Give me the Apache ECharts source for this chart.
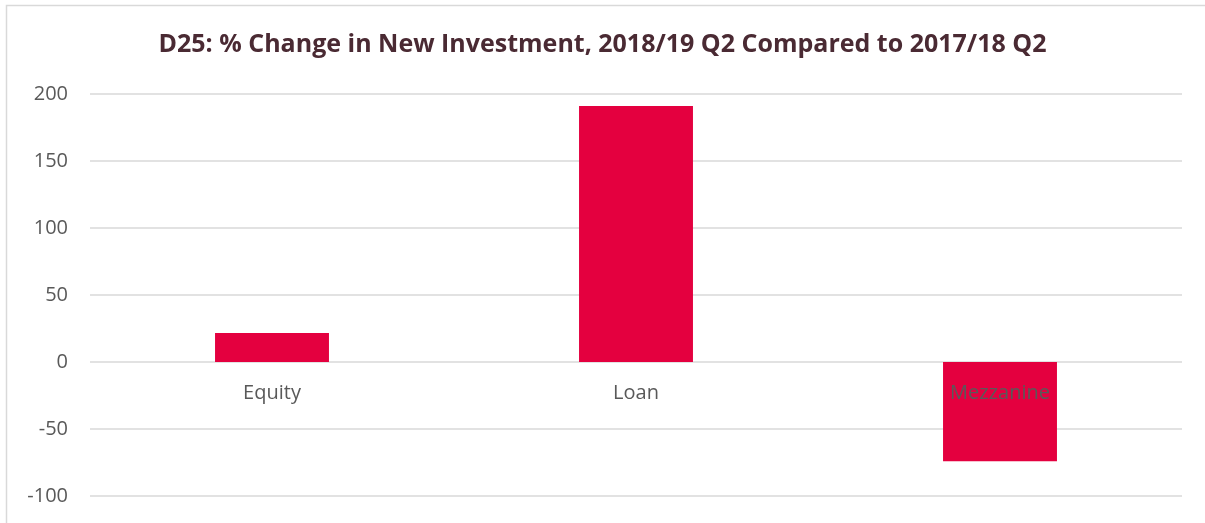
<!DOCTYPE html>
<html>
<head>
<meta charset="utf-8">
<style>
  html, body { margin: 0; padding: 0; background: #ffffff; }
  #chart { width: 1205px; height: 523px; }
</style>
<script src="https://cdn.jsdelivr.net/npm/echarts@6/dist/echarts.min.js"></script>
</head>
<body>
<div id="chart"></div>
<script>
// Investment types and their % change, 2018/19 Q2 vs 2017/18 Q2
const categories = ['Equity', 'Loan', 'Mezzanine'];
const pctChange = [21.7, 191, -74];
const yTicks = { min: -100, max: 200, step: 50 };

// Plot box; the category axis sits on the zero line of the value axis
const gridBox = { left: 90, right: 23, top: 94, bottom: 27 };
const plotHeight = 523 - gridBox.top - gridBox.bottom;
const zeroOffset = -plotHeight * (0 - yTicks.min) / (yTicks.max - yTicks.min);

const chart = echarts.init(document.getElementById('chart'));
chart.setOption({
  animation: false,
  backgroundColor: '#ffffff',
  title: {
    text: 'D25: % Change in New Investment, 2018/19 Q2 Compared to 2017/18 Q2',
    left: 'center',
    top: 27,
    textStyle: {
      fontFamily: 'Open Sans',
      fontWeight: 'bold',
      fontSize: 25,
      color: '#4a2a33'
    }
  },
  graphic: [{
    type: 'rect',
    silent: true,
    shape: { x: 6.5, y: 5.5, width: 1400, height: 800 },
    style: { fill: 'none', stroke: '#d9d9d9', lineWidth: 1.5 }
  }],
  grid: Object.assign({ containLabel: false, outerBoundsMode: 'none' }, gridBox),
  xAxis: {
    type: 'category',
    data: categories,
    z: 10,
    offset: zeroOffset,
    axisLine: { show: false, onZero: false },
    axisTick: { show: false },
    axisLabel: {
      margin: 21,
      fontFamily: 'Open Sans',
      fontSize: 20,
      color: '#595959'
    }
  },
  yAxis: {
    type: 'value',
    min: yTicks.min,
    max: yTicks.max,
    interval: yTicks.step,
    axisLine: { show: false },
    axisTick: { show: false },
    axisLabel: {
      margin: 22,
      fontFamily: 'Open Sans',
      fontSize: 20,
      color: '#595959'
    },
    splitLine: { lineStyle: { color: '#d9d9d9', width: 1.5 } }
  },
  series: [{
    type: 'bar',
    data: pctChange,
    barWidth: '31.3%',
    itemStyle: { color: '#e4003f' }
  }]
});
</script>
</body>
</html>
